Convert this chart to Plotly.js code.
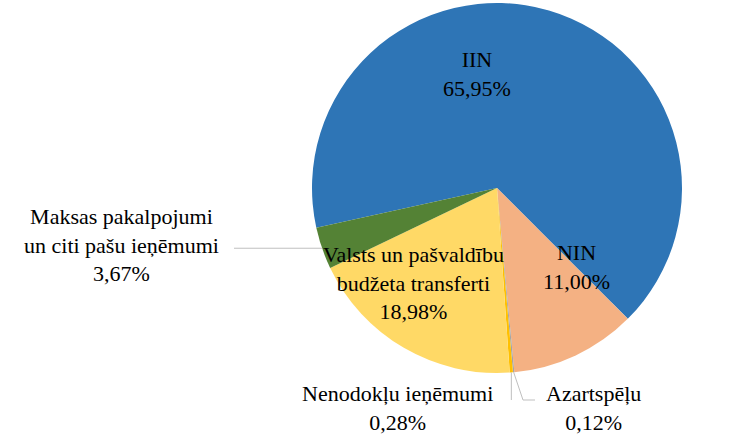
<!DOCTYPE html>
<html>
<head>
<meta charset="utf-8">
<script src="https://cdn.plot.ly/plotly-3.0.1.min.js"></script>
<style>html,body{margin:0;padding:0;background:#fff;}#chart{width:751px;height:434px;}</style>
</head>
<body>
<div id="chart"></div>
<script>
// Data (clockwise order as drawn)
const categories = ["IIN", "NIN", "Azartspēļu", "Nenodokļu ieņēmumi", "Valsts un pašvaldību budžeta transferti", "Maksas pakalpojumi un citi pašu ieņēmumi"];
const displayLabels = ["IIN", "NIN", "Azartspēļu", "Nenodokļu ieņēmumi", "Valsts un pašvaldību<br>budžeta transferti", "Maksas pakalpojumi<br>un citi pašu ieņēmumi"];
const shares = [65.95, 11.00, 0.12, 0.28, 18.98, 3.67];
const colors = ["#2E75B6", "#F4B183", "#A5A5A5", "#FFC000", "#FFD966", "#548235"];

// Layout constants (pixels)
const W = 751, H = 434;
const CX = 497, CY = 188, R = 185;
const ROT = 257.6;
const FONT = "'Liberation Serif', 'Times New Roman', serif";

// label centres in pixels (layout only)
const labelPos = [[477, 74], [576, 267], [593, 408], [397, 408], [413, 283], [121, 245]];

const px = x => x / W;
const py = y => 1 - y / H;
const fmt = v => v.toFixed(2).replace(".", ",") + "%";

const trace = {
  type: "pie",
  labels: categories,
  values: shares,
  textinfo: "none",
  hoverinfo: "label+percent",
  sort: false,
  direction: "clockwise",
  rotation: ROT,
  marker: { colors: colors, line: { width: 0 } },
  domain: { x: [px(CX - R), px(CX + R)], y: [py(CY + R), py(CY - R)] },
  showlegend: false
};

const total = shares.reduce((a, b) => a + b, 0);
const annotations = displayLabels.map((t, i) => ({
  xref: "paper", yref: "paper",
  x: px(labelPos[i][0]), y: py(labelPos[i][1]),
  xanchor: "center", yanchor: "middle",
  text: t + "<br>" + fmt(shares[i]),
  showarrow: false,
  font: { family: FONT, size: 22, color: "#000" }
}));

// leader lines, anchored at slice mid-angle on the rim
function rimPoint(i) {
  let cum = 0;
  for (let k = 0; k < i; k++) cum += shares[k];
  const a = (ROT + 360 * (cum + shares[i] / 2) / total) * Math.PI / 180;
  return [CX + R * Math.sin(a), CY - R * Math.cos(a)];
}
const pAz = rimPoint(2), pNe = rimPoint(3), pMa = rimPoint(5);
const lineStyle = { color: "#BFBFBF", width: 1 };
const shapes = [
  { type: "line", xref: "paper", yref: "paper", x0: px(pNe[0]), y0: py(pNe[1]), x1: px(pNe[0]), y1: py(400), line: lineStyle },
  { type: "line", xref: "paper", yref: "paper", x0: px(pAz[0]), y0: py(pAz[1]), x1: px(523), y1: py(400), line: lineStyle },
  { type: "line", xref: "paper", yref: "paper", x0: px(523), y0: py(400), x1: px(535), y1: py(400), line: lineStyle },
  { type: "line", xref: "paper", yref: "paper", x0: px(234), y0: py(pMa[1]), x1: px(pMa[0]), y1: py(pMa[1]), line: lineStyle }
];

const layout = {
  width: W,
  height: H,
  margin: { l: 0, r: 0, t: 0, b: 0 },
  paper_bgcolor: "#fff",
  separators: ", ",
  showlegend: false,
  font: { family: FONT, size: 22, color: "#000" },
  annotations: annotations,
  shapes: shapes
};

Plotly.newPlot("chart", [trace], layout, { displayModeBar: false, staticPlot: true });
</script>
</body>
</html>
